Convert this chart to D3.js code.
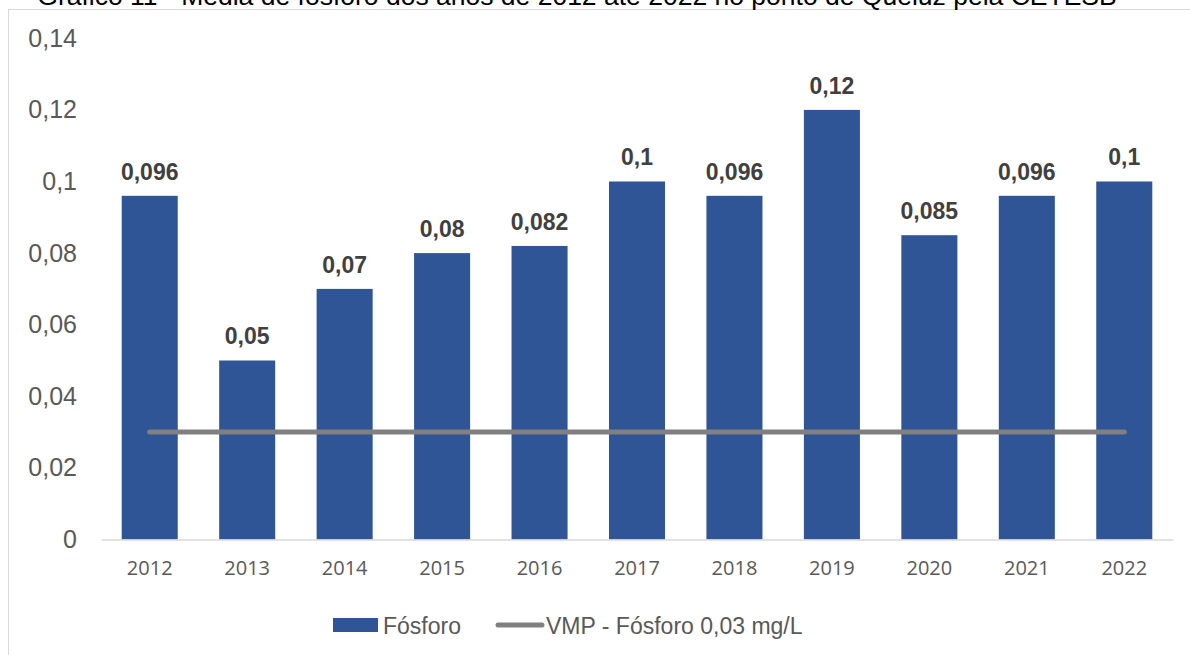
<!DOCTYPE html>
<html>
<head>
<meta charset="utf-8">
<script src="https://cdn.jsdelivr.net/npm/d3@7"></script>
<style>
  body { margin: 0; background: #fff; }
  svg { display: block; }
</style>
</head>
<body>
<div id="chart"></div>
<script>
const years = ["2012","2013","2014","2015","2016","2017","2018","2019","2020","2021","2022"];
const fosforo = [0.096, 0.05, 0.07, 0.08, 0.082, 0.1, 0.096, 0.12, 0.085, 0.096, 0.1];
const vmp = 0.03;
const yTicks = [0, 0.02, 0.04, 0.06, 0.08, 0.1, 0.12, 0.14];
const titleText = "Gráfico 11 - Média de fósforo dos anos de 2012 até 2022 no ponto de Queluz pela CETESB";

const W = 1190, H = 655;
const margin = { top: 38.3, right: 17, bottom: 115.5, left: 101 };
const width = W - margin.left - margin.right,
      height = H - margin.top - margin.bottom;

const svg = d3.select("#chart").append("svg")
    .attr("width", W)
    .attr("height", H);

// frame of the chart area
svg.append("rect")
    .attr("x", 8.5).attr("y", 9.5)
    .attr("width", 1200).attr("height", 700)
    .attr("fill", "none")
    .attr("stroke", "#d9d9d9")
    .attr("stroke-width", 1);

// title (sits above the frame, partly cut off like the original)
svg.append("text")
    .attr("x", 577).attr("y", 5)
    .attr("text-anchor", "middle")
    .style("font-family", "Liberation Sans, Arial, sans-serif")
    .style("font-size", "26.5px")
    .attr("fill", "#000")
    .text(titleText);

const g = svg.append("g")
    .attr("transform", `translate(${margin.left}, ${margin.top})`);

const x = d3.scaleBand()
    .domain(years)
    .range([0, width])
    .paddingInner(0.425)
    .paddingOuter(0.2125);

const y = d3.scaleLinear()
    .domain([0, 0.14])
    .range([height, 0]);

const fmt = v => String(v).replace(".", ",");

// y axis labels
g.append("g")
    .call(d3.axisLeft(y).tickValues(yTicks).tickSize(0).tickPadding(24).tickFormat(fmt))
    .call(s => s.select(".domain").remove())
    .selectAll("text")
    .style("font-family", "Liberation Sans, Arial, sans-serif")
    .style("font-size", "25px")
    .attr("fill", "#595959");

// bars
g.selectAll(".bar")
    .data(years.map((yr, i) => ({ year: yr, value: fosforo[i] })))
    .join("rect")
    .attr("class", "bar")
    .attr("x", d => x(d.year))
    .attr("y", d => y(d.value))
    .attr("width", x.bandwidth())
    .attr("height", d => height - y(d.value))
    .attr("fill", "#2f5597");

// x axis
g.append("g")
    .attr("transform", `translate(0, ${height})`)
    .call(d3.axisBottom(x).tickSize(0).tickPadding(21))
    .call(s => s.select(".domain").attr("stroke", "#d9d9d9").attr("stroke-width", 1.5))
    .selectAll("text")
    .style("font-family", "Open Sans, Lato, sans-serif")
    .style("font-size", "20px")
    .attr("fill", "#595959");

// data labels
g.selectAll(".lbl")
    .data(years.map((yr, i) => ({ year: yr, value: fosforo[i] })))
    .join("text")
    .attr("class", "lbl")
    .attr("x", d => x(d.year) + x.bandwidth() / 2)
    .attr("y", d => y(d.value) - 16)
    .attr("text-anchor", "middle")
    .style("font-family", "Liberation Sans, Arial, sans-serif")
    .style("font-size", "23px")
    .style("font-weight", "bold")
    .attr("fill", "#404040")
    .text(d => fmt(d.value));

// VMP line
const line = d3.line()
    .x(d => x(d) + x.bandwidth() / 2)
    .y(() => y(vmp));
g.append("path")
    .datum(years)
    .attr("d", line)
    .attr("fill", "none")
    .attr("stroke", "#808080")
    .attr("stroke-width", 5)
    .attr("stroke-linecap", "round");

// legend
const legend = svg.append("g").attr("transform", "translate(0, 625)");
legend.append("rect")
    .attr("x", 333).attr("y", -7)
    .attr("width", 45).attr("height", 14)
    .attr("fill", "#2f5597");
legend.append("text")
    .attr("x", 383).attr("y", 8.5)
    .style("font-family", "Liberation Sans, Arial, sans-serif")
    .style("font-size", "23px")
    .attr("fill", "#595959")
    .text("Fósforo");
legend.append("line")
    .attr("x1", 498).attr("x2", 542)
    .attr("y1", 0).attr("y2", 0)
    .attr("stroke", "#808080")
    .attr("stroke-width", 5)
    .attr("stroke-linecap", "round");
legend.append("text")
    .attr("x", 546).attr("y", 8.5)
    .style("font-family", "Liberation Sans, Arial, sans-serif")
    .style("font-size", "23px")
    .attr("fill", "#595959")
    .text("VMP - Fósforo 0,03 mg/L");
</script>
</body>
</html>
